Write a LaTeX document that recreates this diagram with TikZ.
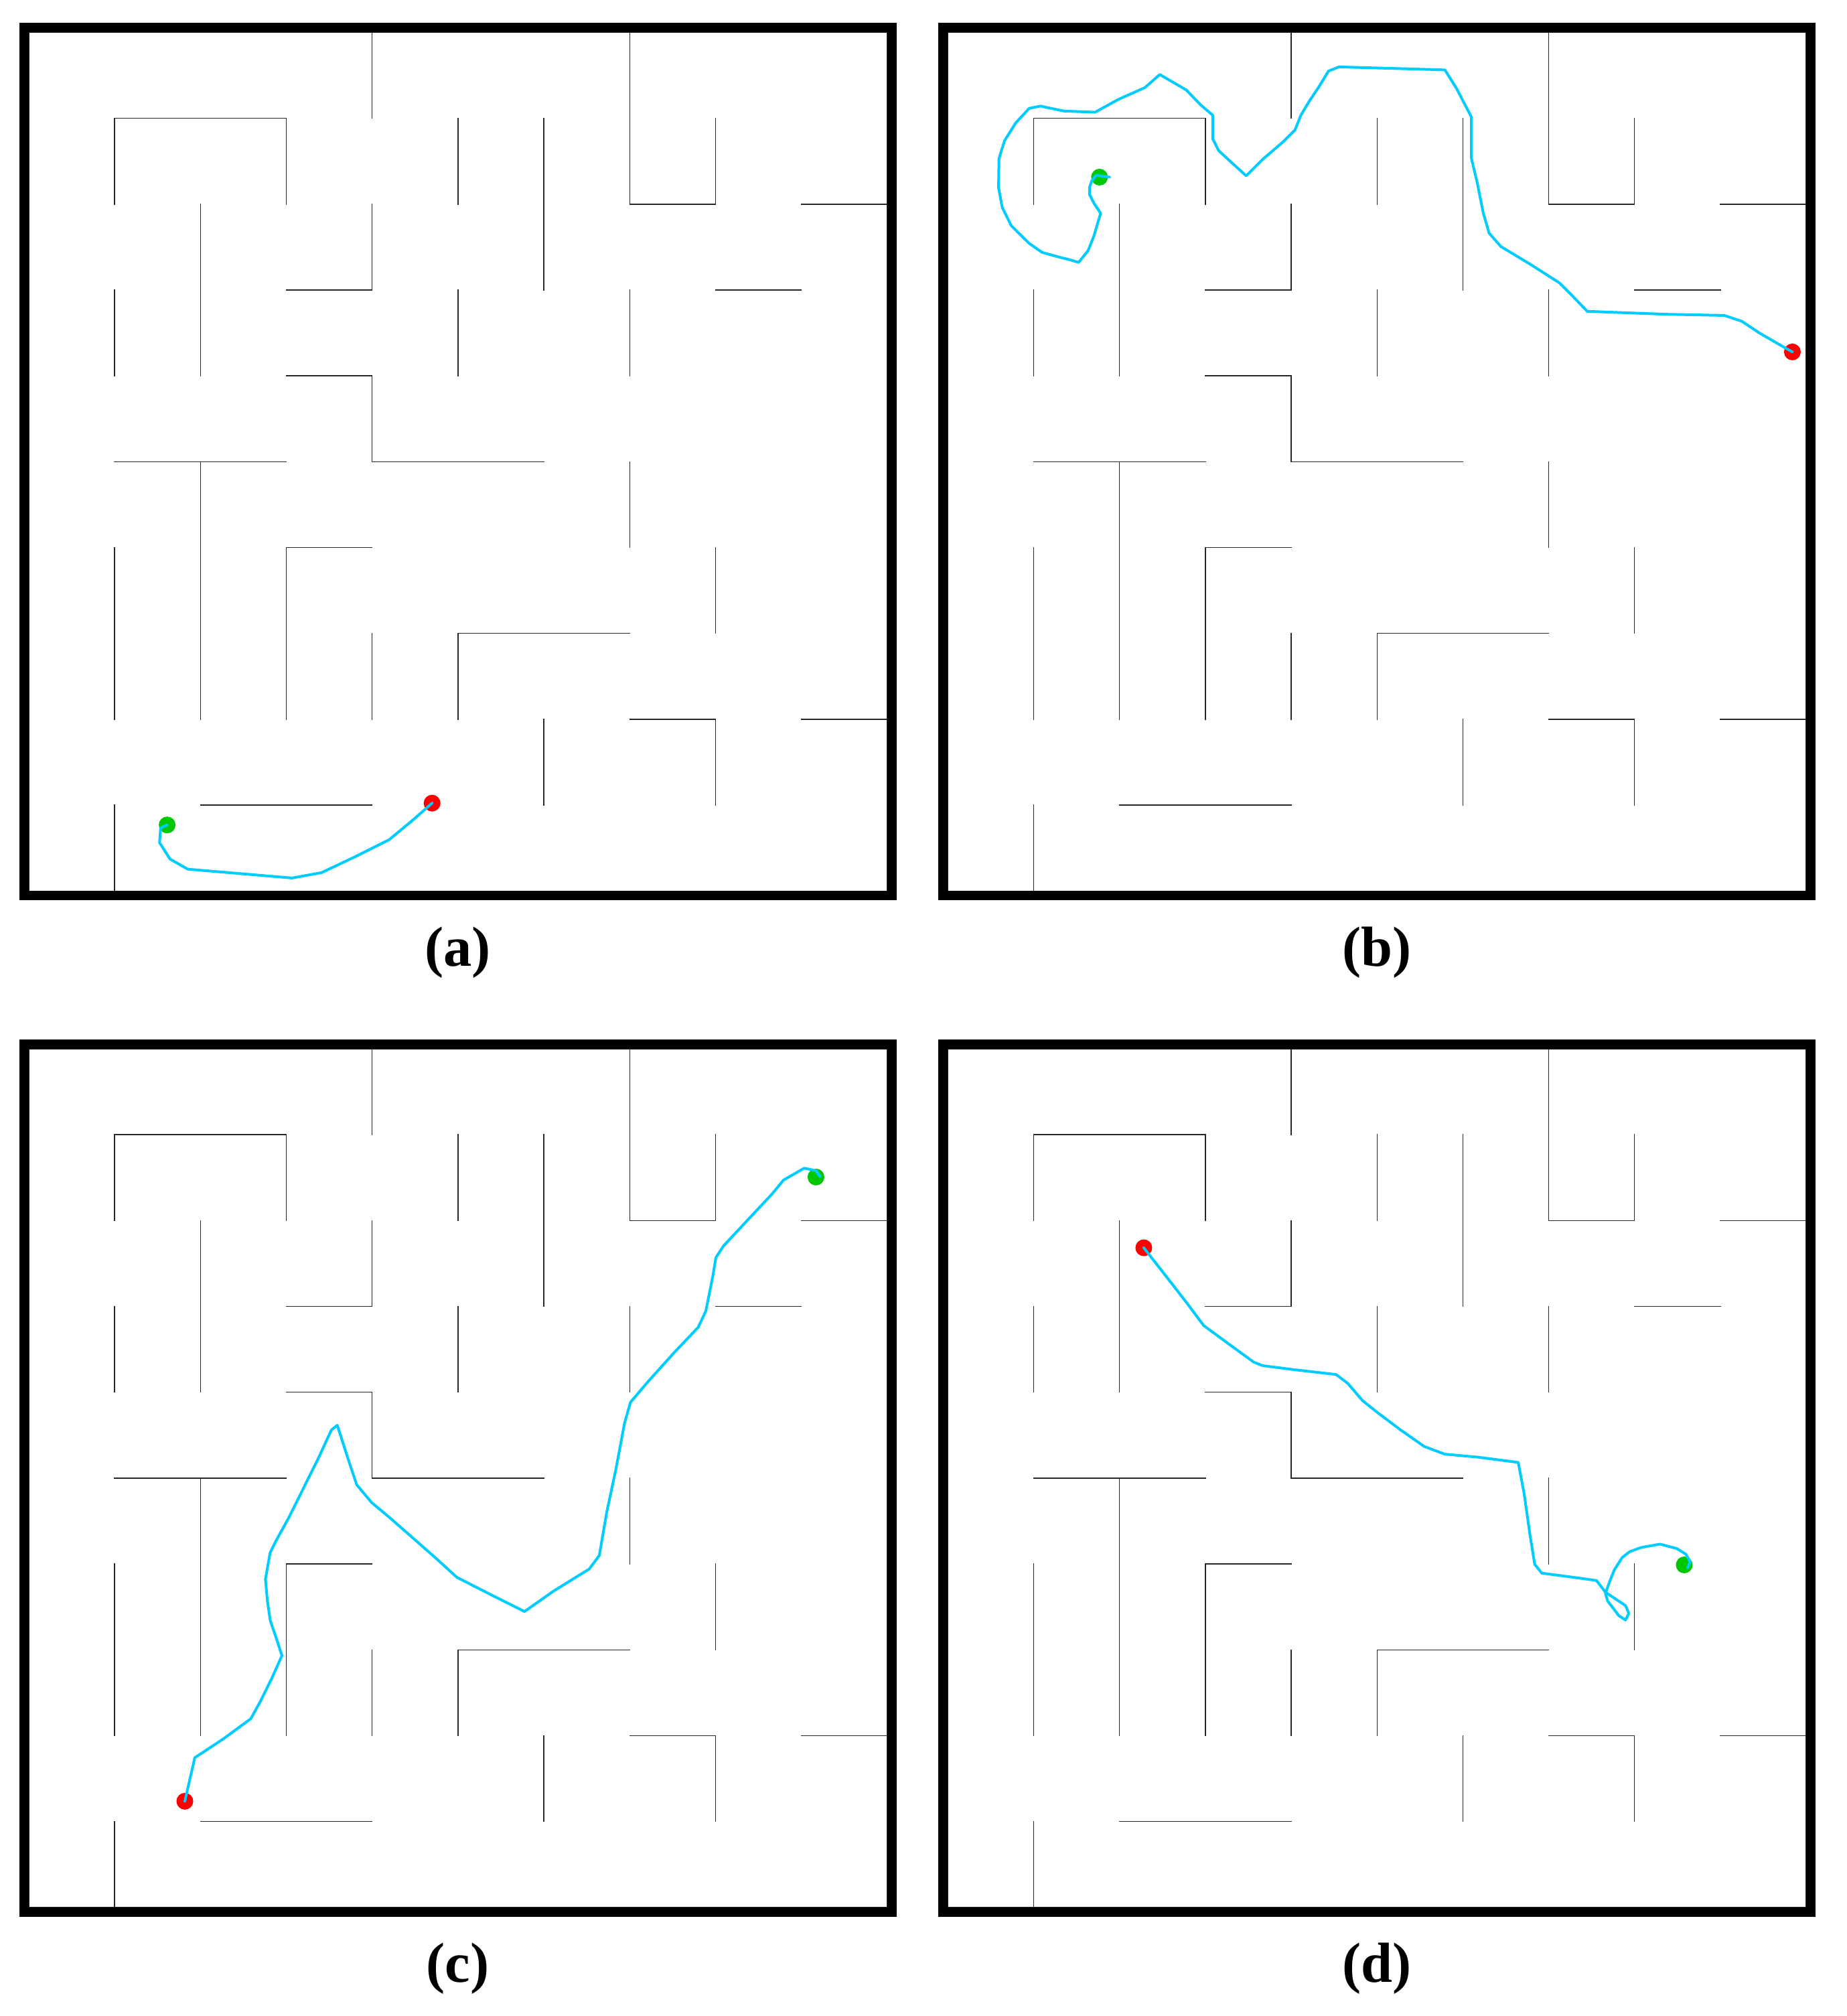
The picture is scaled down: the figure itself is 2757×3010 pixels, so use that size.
\documentclass[tikz,border=0pt]{standalone}
\usepackage{fontspec}
\setmainfont{Liberation Serif}
\definecolor{trajcol}{RGB}{0,204,255}
\definecolor{startgreen}{RGB}{0,200,0}
\definecolor{endred}{RGB}{255,0,0}
\tikzset{
  wall/.style={draw=black!85, line width=0.4pt, line cap=rect},
  mazeborder/.style={draw=black, line width=0.14cm},
  traj/.style={draw=trajcol, line width=0.04cm, line join=round, line cap=round},
  gdot/.style={circle, fill=startgreen, inner sep=0pt, minimum size=0.25cm},
  rdot/.style={circle, fill=endred, inner sep=0pt, minimum size=0.25cm},
  lab/.style={anchor=base, inner sep=0pt, font=\bfseries\fontsize{24pt}{28pt}\selectfont}
}
\newcommand\mazewalls{%
  \draw[wall] (0,0) rectangle (10,10);
  \draw[wall] (4,0)--(4,1);
  \draw[wall] (1,2)--(1,1)--(3,1)--(3,2);
  \draw[wall] (5,1)--(5,2);
  \draw[wall] (6,1)--(6,3);
  \draw[wall] (7,0)--(7,2)--(8,2)--(8,1);
  \draw[wall] (9,2)--(10,2);
  \draw[wall] (2,2)--(2,4);
  \draw[wall] (4,2)--(4,3)--(3,3);
  \draw[wall] (1,3)--(1,4);
  \draw[wall] (5,3)--(5,4);
  \draw[wall] (7,3)--(7,4);
  \draw[wall] (8,3)--(9,3);
  \draw[wall] (3,4)--(4,4)--(4,5)--(6,5);
  \draw[wall] (1,5)--(3,5);
  \draw[wall] (2,5)--(2,8);
  \draw[wall] (7,5)--(7,6);
  \draw[wall] (1,6)--(1,8);
  \draw[wall] (4,6)--(3,6)--(3,8);
  \draw[wall] (8,6)--(8,7);
  \draw[wall] (4,7)--(4,8);
  \draw[wall] (7,7)--(5,7)--(5,8);
  \draw[wall] (6,8)--(6,9);
  \draw[wall] (7,8)--(8,8)--(8,9);
  \draw[wall] (9,8)--(10,8);
  \draw[wall] (2,9)--(4,9);
  \draw[wall] (1,9)--(1,10);
  \draw[mazeborder] (-0.0547,-0.0547) rectangle (10.0547,10.0547);
}
\begin{document}
\begin{tikzpicture}[x=0.01cm,y=-0.01cm]
\useasboundingbox (0,0) rectangle (2757,3010);
\fill[white] (0,0) rectangle (2757,3010);

% ---------------- panel (a)
\begin{scope}[shift={(43,48.5)}]
\begin{scope}[x=1.281cm,y=-1.281cm]
  \mazewalls
  \node[gdot] (ga) at (1.612,9.231) {};
  \node[rdot] (ra) at (4.698,8.977) {};
  \draw[traj] (ga.center) -- (1.536,9.266) -- (1.523,9.437) -- (1.646,9.629) -- (1.852,9.746)
    -- (3.066,9.849) -- (3.409,9.787) -- (3.786,9.609) -- (4.198,9.403) -- (4.472,9.176) -- (ra.center);
\end{scope}
\end{scope}

% ---------------- panel (b)
\begin{scope}[shift={(1415.3,48.5)}]
\begin{scope}[x=1.281cm,y=-1.281cm]
  \mazewalls
  \node[gdot] (gb) at (1.767,1.685) {};
  \node[rdot] (rb) at (9.839,3.721) {};
  \coordinate (bstub) at (1.884,1.685);
  \draw[traj] (bstub) -- (1.728,1.664) -- (1.676,1.729) -- (1.650,1.807) -- (1.650,1.885)
    -- (1.702,1.989) -- (1.780,2.106) -- (1.702,2.370) -- (1.634,2.541) -- (1.524,2.678)
    -- (1.408,2.644) -- (1.286,2.614) -- (1.099,2.562) -- (0.948,2.457) -- (0.825,2.336)
    -- (0.739,2.250) -- (0.635,2.041) -- (0.591,1.807) -- (0.596,1.469) -- (0.661,1.261)
    -- (0.792,1.052) -- (0.948,0.884) -- (1.080,0.857) -- (1.154,0.874) -- (1.353,0.915)
    -- (1.716,0.929) -- (1.990,0.778) -- (2.298,0.641) -- (2.469,0.490) -- (2.777,0.669)
    -- (2.949,0.847) -- (3.086,0.964) -- (3.086,1.238) -- (3.154,1.375) -- (3.325,1.533)
    -- (3.476,1.670) -- (3.668,1.478) -- (3.908,1.272) -- (4.045,1.135) -- (4.113,0.964)
    -- (4.216,0.792) -- (4.318,0.641) -- (4.435,0.449) -- (4.558,0.401) -- (5.551,0.429)
    -- (5.791,0.436) -- (5.928,0.655) -- (6.099,0.984) -- (6.099,1.464) -- (6.168,1.752)
    -- (6.236,2.095) -- (6.305,2.336) -- (6.442,2.493) -- (6.784,2.699) -- (7.127,2.918)
    -- (7.264,3.056) -- (7.449,3.248) -- (8.360,3.282) -- (9.045,3.296) -- (9.250,3.364)
    -- (9.455,3.501) -- (9.729,3.659) -- (rb.center);
\end{scope}
\end{scope}

% ---------------- panel (c)
\begin{scope}[shift={(43,1566)}]
\begin{scope}[x=1.281cm,y=-1.281cm]
  \mazewalls
  \node[gdot] (gc) at (9.170,1.493) {};
  \node[rdot] (rc) at (1.818,8.764) {};
  \draw[traj] (rc.center) -- (1.934,8.256) -- (2.071,8.167) -- (2.277,8.030) -- (2.586,7.803)
    -- (2.689,7.618) -- (2.826,7.343) -- (2.949,7.068) -- (2.894,6.897) -- (2.812,6.656)
    -- (2.778,6.416) -- (2.757,6.176) -- (2.812,5.867) -- (2.881,5.729) -- (3.032,5.455)
    -- (3.203,5.111) -- (3.374,4.768) -- (3.525,4.439) -- (3.594,4.384) -- (3.717,4.768)
    -- (3.820,5.077) -- (3.992,5.283) -- (4.198,5.455) -- (4.472,5.695) -- (4.746,5.936)
    -- (4.986,6.155) -- (5.364,6.348) -- (5.775,6.554) -- (6.118,6.313) -- (6.529,6.059)
    -- (6.646,5.901) -- (6.735,5.386) -- (6.838,4.905) -- (6.941,4.356) -- (7.010,4.116)
    -- (7.215,3.875) -- (7.524,3.532) -- (7.798,3.244) -- (7.888,3.052) -- (7.970,2.640)
    -- (8.004,2.433) -- (8.093,2.296) -- (8.381,1.987) -- (8.656,1.693) -- (8.793,1.528)
    -- (9.033,1.390) -- (9.170,1.418) -- (9.218,1.487);
\end{scope}
\end{scope}

% ---------------- panel (d)
\begin{scope}[shift={(1415.3,1566)}]
\begin{scope}[x=1.281cm,y=-1.281cm]
  \mazewalls
  \node[gdot] (gd) at (8.579,6.011) {};
  \node[rdot] (rd) at (2.283,2.317) {};
  \draw[traj] (rd.center) -- (2.536,2.640) -- (2.776,2.949) -- (2.982,3.224) -- (3.290,3.450)
    -- (3.564,3.649) -- (3.667,3.690) -- (4.043,3.738) -- (4.522,3.793) -- (4.659,3.896)
    -- (4.830,4.096) -- (5.001,4.233) -- (5.275,4.439) -- (5.549,4.631) -- (5.789,4.721)
    -- (6.166,4.755) -- (6.645,4.817) -- (6.714,5.181) -- (6.782,5.661) -- (6.837,6.004)
    -- (6.919,6.107) -- (7.375,6.167) -- (7.557,6.193) -- (7.661,6.329) -- (7.895,6.485)
    -- (7.934,6.576) -- (7.895,6.654) -- (7.817,6.602) -- (7.687,6.432) -- (7.661,6.341)
    -- (7.713,6.198) -- (7.765,6.068) -- (7.856,5.925) -- (7.947,5.855) -- (8.078,5.808)
    -- (8.298,5.769) -- (8.493,5.821) -- (8.598,5.886) -- (8.649,5.977) -- (8.618,6.042);
\end{scope}
\end{scope}

% ---------------- labels
\node[lab] (la) at (683.5,1442) {(a)};
\node[lab] (lb) at (2055.8,1442) {(b)};
\node[lab] (lc) at (683.5,2959.5) {(c)};
\node[lab] (ld) at (2055.8,2959.5) {(d)};
\end{tikzpicture}
\end{document}
